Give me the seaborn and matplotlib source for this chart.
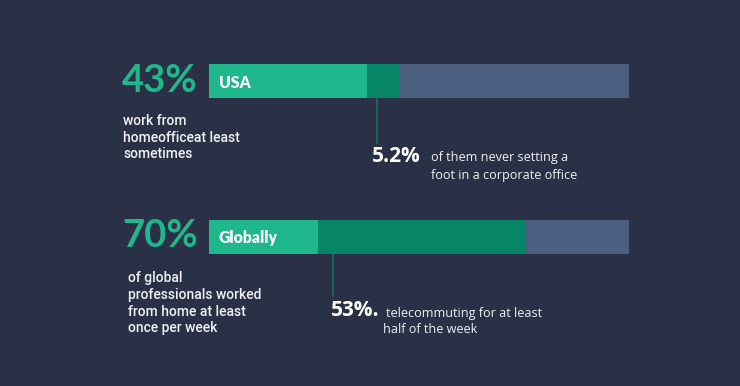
import pandas as pd
import matplotlib.pyplot as plt
import seaborn as sns

# Data (share of bar width)
regions = ["USA", "Globally"]
light_share = [37.7, 26.0]     # light green part
dark_share = [7.6, 49.5]       # dark green part
rest_share = [54.7, 24.5]      # remaining grey-blue part
headline = ["43%", "70%"]
sub_value = ["5.2%", "53%."]

BG = "#2a3146"
LIGHT = "#1eb88c"
DARK = "#078667"
REST = "#4d5f80"
LINE = "#1d6a60"
TEXT = "#eef0f3"

sns.set_theme(style="white")
plt.rcParams["font.family"] = ["Open Sans", "DejaVu Sans"]

W, H = 740, 386
fig = plt.figure(figsize=(W / 100, H / 100), dpi=100, facecolor=BG)
ax = fig.add_axes([209 / W, 0, 420 / W, 1])
ax.set_facecolor(BG)

df = pd.DataFrame({"region": regions, "light": light_share,
                   "dark": dark_share, "rest": rest_share})
df["cum_dark"] = df["light"] + df["dark"]
df["total"] = df["cum_dark"] + df["rest"]

# stacked bars drawn as overlaid cumulative totals
for col, c in [("total", REST), ("cum_dark", DARK), ("light", LIGHT)]:
    sns.barplot(data=df, x=col, y="region", orient="h", color=c,
                saturation=1, width=0.219, linewidth=0, ax=ax)

ax.set_xlim(0, 100)
ax.set_ylim(1.961, -0.521)
ax.axis("off")


def px(x, y):
    return x / W, 1 - y / H


# labels inside bars
for i, r in enumerate(regions):
    ax.text(2.3, i + 0.012, r, color="white", fontsize=11.3, fontweight="heavy",
            va="center", ha="left", family=["Lato", "DejaVu Sans"])

# connector lines
ax.plot([40, 40], [0.11, 0.40], color=LINE, lw=1.2)
ax.plot([29.5, 29.5], [1.11, 1.385], color=LINE, lw=1.2)

# big headline numbers
for y, h in zip([81, 236], headline):
    fig.text(*px(122, y), h, color=LIGHT, fontsize=27.5, fontweight="bold",
             va="center", ha="left", family=["Lato", "DejaVu Sans"])

# left descriptions
fig.text(*px(123, 114), "work from\nhomeofficeat least\nsometimes", color=TEXT,
         fontsize=10, fontweight="medium", va="top", ha="left", linespacing=1.25,
         family=["Roboto", "DejaVu Sans"])
fig.text(*px(128, 271), "of global\nprofessionals worked\nfrom home at least\nonce per week",
         color=TEXT, fontsize=10, fontweight="medium", va="top", ha="left", linespacing=1.25,
         family=["Roboto", "DejaVu Sans"])

# sub values
fig.text(*px(372, 157), sub_value[0], color="white", fontsize=15, fontweight="bold",
         va="center", ha="left")
fig.text(*px(431, 151), "of them never setting a\nfoot in a corporate office", color=TEXT,
         fontsize=9.1, va="top", ha="left", linespacing=1.45)
fig.text(*px(331, 310), sub_value[1], color="white", fontsize=15, fontweight="bold",
         va="center", ha="left")
fig.text(*px(386, 307), "telecommuting for at least", color=TEXT,
         fontsize=9.1, va="top", ha="left")
fig.text(*px(383, 323), "half of the week", color=TEXT,
         fontsize=9.1, va="top", ha="left")

fig.savefig("out.png", dpi=100, facecolor=BG)
